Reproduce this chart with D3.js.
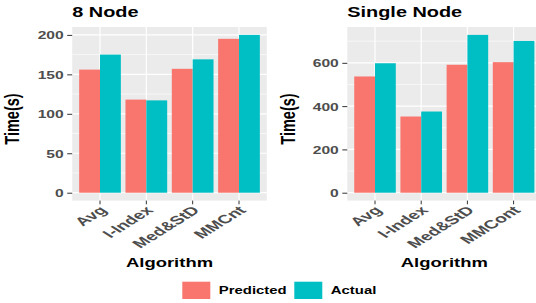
<!DOCTYPE html>
<html>
<head>
<meta charset="utf-8">
<script src="https://cdn.jsdelivr.net/npm/d3@7"></script>
<style>
  body { margin: 0; background: #fff; }
  svg text { font-family: "Liberation Sans", Arial, sans-serif; font-weight: bold; }
</style>
</head>
<body>
<div id="chart"></div>
<script>
// values
var series = ["Predicted", "Actual"];
var colors = ["#F8766D", "#00BFC4"];

var categories8 = ["Avg", "I-Index", "Med&StD", "MMCnt"];
var predicted8 = [156, 118, 157, 195];
var actual8 = [175, 117, 169, 200];
var ticks8 = [0, 50, 100, 150, 200];
var minor8 = [25, 75, 125, 175];

var categoriesSingle = ["Avg", "I-Index", "Med&StD", "MMCont"];
var predictedSingle = [537, 352, 591, 603];
var actualSingle = [598, 375, 729, 701];
var ticksSingle = [0, 200, 400, 600];
var minorSingle = [100, 300, 500, 700];

// the original picture is stretched sideways, text too
var STRETCH = 1.42;
var LABEL_STRETCH = 1.6;

var W = 536, H = 303;
var svg = d3.select("#chart").append("svg")
	.attr("width", W)
	.attr("height", H);

function drawPanel(p) {
	var g = svg.append("g");
	var top = 27, bottom = 200.6;
	var maxVal = d3.max(p.predicted.concat(p.actual));
	// ggplot-like 5% expansion
	var y = d3.scaleLinear()
		.domain([-0.05 * maxVal, maxVal * 1.05])
		.range([bottom, top]);
	var x = d3.scaleBand()
		.domain(p.categories)
		.range([p.x0, p.x1])
		.paddingInner(0)
		.paddingOuter(0.1);
	var bw = x.bandwidth();
	var xSub = d3.scaleBand()
		.domain(series)
		.range([0.05 * bw, 0.95 * bw]);

	g.append("rect")
		.attr("x", p.x0).attr("y", top)
		.attr("width", p.x1 - p.x0).attr("height", bottom - top)
		.attr("fill", "#EBEBEB");

	// grid
	g.selectAll("line.minor").data(p.minor).enter().append("line")
		.attr("x1", p.x0).attr("x2", p.x1)
		.attr("y1", function(d) { return y(d); })
		.attr("y2", function(d) { return y(d); })
		.attr("stroke", "#fff").attr("stroke-width", 0.6);
	g.selectAll("line.major").data(p.ticks).enter().append("line")
		.attr("x1", p.x0).attr("x2", p.x1)
		.attr("y1", function(d) { return y(d); })
		.attr("y2", function(d) { return y(d); })
		.attr("stroke", "#fff").attr("stroke-width", 1.2);
	g.selectAll("line.vgrid").data(p.categories).enter().append("line")
		.attr("x1", function(d) { return x(d) + bw / 2; })
		.attr("x2", function(d) { return x(d) + bw / 2; })
		.attr("y1", top).attr("y2", bottom)
		.attr("stroke", "#fff").attr("stroke-width", 1.2);

	// bars
	var rows = [];
	p.categories.forEach(function(c, i) {
		rows.push({cat: c, s: "Predicted", v: p.predicted[i]});
		rows.push({cat: c, s: "Actual", v: p.actual[i]});
	});
	g.selectAll("rect.bar").data(rows).enter().append("rect")
		.attr("class", "bar")
		.attr("x", function(d) { return x(d.cat) + xSub(d.s); })
		.attr("width", xSub.bandwidth())
		.attr("y", function(d) { return y(d.v); })
		.attr("height", function(d) { return y(0) - y(d.v); })
		.attr("fill", function(d) { return colors[series.indexOf(d.s)]; });

	// y axis
	var ya = g.append("g")
		.attr("transform", "translate(" + p.x0 + ",0)")
		.call(d3.axisLeft(y).tickValues(p.ticks).tickSize(5).tickPadding(0));
	ya.select(".domain").remove();
	ya.selectAll(".tick line").attr("stroke", "#333").attr("stroke-width", 1);
	ya.selectAll(".tick text")
		.attr("fill", "#4D4D4D")
		.attr("font-size", 11)
		.attr("x", -8.5 / STRETCH)
		.attr("dy", "0.36em")
		.attr("transform", "scale(" + STRETCH + ",1)");

	// x axis
	var xa = g.append("g")
		.attr("transform", "translate(0," + bottom + ")")
		.call(d3.axisBottom(x).tickSize(3.7).tickFormat(""));
	xa.select(".domain").remove();
	xa.selectAll(".tick line").attr("stroke", "#333").attr("stroke-width", 1);
	xa.selectAll(".tick").append("text")
		.attr("fill", "#4D4D4D")
		.attr("font-size", 12)
		.attr("text-anchor", "end")
		.attr("transform", "translate(8,10.5) scale(" + LABEL_STRETCH + ",1) rotate(-45)")
		.text(function(d) { return d; });

	// titles
	svg.append("text")
		.attr("transform", "translate(" + p.x0 + ",17.3) scale(" + STRETCH + ",1)")
		.attr("font-size", 14)
		.attr("fill", "#000")
		.text(p.title);
	svg.append("text")
		.attr("transform", "translate(" + ((p.x0 + p.x1) / 2) + ",267) scale(" + STRETCH + ",1)")
		.attr("text-anchor", "middle")
		.attr("font-size", 13)
		.attr("fill", "#000")
		.text("Algorithm");
	svg.append("text")
		.attr("transform", "translate(" + p.yTitleX + ",119) scale(" + STRETCH + ",1) rotate(-90)")
		.attr("text-anchor", "middle")
		.attr("font-size", 14.5)
		.attr("fill", "#000")
		.text("Time(s)");
}

drawPanel({
	title: "8 Node", categories: categories8,
	predicted: predicted8, actual: actual8,
	ticks: ticks8, minor: minor8,
	x0: 72.2, x1: 266.8, yTitleX: 19
});
drawPanel({
	title: "Single Node", categories: categoriesSingle,
	predicted: predictedSingle, actual: actualSingle,
	ticks: ticksSingle, minor: minorSingle,
	x0: 347.3, x1: 541.3, yTitleX: 294.5
});

// legend
var legendX = [182.3, 294.3];
var lg = svg.append("g");
series.forEach(function(s, i) {
	lg.append("rect")
		.attr("x", legendX[i]).attr("y", 281.7)
		.attr("width", 28).attr("height", 17.3)
		.attr("fill", colors[i]);
	lg.append("text")
		.attr("transform", "translate(" + (legendX[i] + 36.5) + ",294) scale(" + STRETCH + ",1)")
		.attr("font-size", 10.5)
		.attr("fill", "#000")
		.text(s);
});
</script>
</body>
</html>
